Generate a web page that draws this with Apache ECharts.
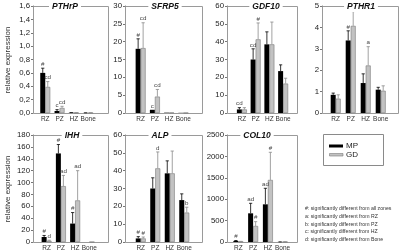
<!DOCTYPE html>
<html><head><meta charset="utf-8">
<script src="https://cdn.jsdelivr.net/npm/echarts@6/dist/echarts.min.js"></script>
<style>html,body{margin:0;padding:0;background:#fff}#c{width:400px;height:252px}</style>
</head><body><div id="c"></div>
<script>
// ---------- data ----------
const categories = ['RZ', 'PZ', 'HZ', 'Bone'];
const genes = ['PTHrP', 'SFRP5', 'GDF10', 'PTHR1', 'IHH', 'ALP', 'COL10'];
const yMax  = [1.6, 30, 60, 5, 180, 60, 2500];
const yStep = [0.2, 5, 10, 1, 20, 10, 500];
const mpMean = [
  [0.60, 0.03, 0.005, 0.002],
  [18.0, 0.9, 0.1, 0.05],
  [2.0, 30, 38.5, 23.5],
  [0.85, 3.39, 1.4, 1.09],
  [8.4, 149, 31, 0],
  [2.0, 30, 38.5, 23.5],
  [25, 670, 880, 2]
];
const mpUpper = [
  [0.67, 0.05, 0.006, 0.003],
  [20.8, 0.9, 0.1, 0.05],
  [3.0, 36, 45.5, 27],
  [0.93, 3.84, 1.83, 1.2],
  [11, 164, 49.5, 0],
  [3.0, 36, 45.5, 27],
  [35, 904, 1255, 3]
];
const gdMean = [
  [0.39, 0.075, 0.004, 0.002],
  [18.2, 4.6, 0.1, 0.05],
  [2.0, 41.3, 38.5, 16.5],
  [0.67, 4.07, 2.22, 1.04],
  [2, 94, 70, 0],
  [2.0, 41.3, 38.5, 16.5],
  [10, 374, 1450, 2]
];
const gdUpper = [
  [0.47, 0.10, 0.005, 0.003],
  [25.3, 6.6, 0.1, 0.05],
  [3.0, 50.5, 51, 19.5],
  [0.85, 4.74, 3.1, 1.27],
  [3, 112, 120, 0],
  [2.8, 50.5, 51, 19.5],
  [15, 475, 2096, 3]
];
const mpNotes = [
  ['#', 'c', '', ''],
  ['#', 'c', '', ''],
  ['cd', 'cd', '', ''],
  ['', '#', '', ''],
  ['#', '#', '#', ''],
  ['#', '', '', ''],
  ['#', 'ad', 'ad', '']
];
const gdNotes = [
  ['cd', 'cd', '', ''],
  ['cd', 'cd', '', ''],
  ['', '#', '', ''],
  ['', '#', 'a', ''],
  ['d', 'ad', 'ad', ''],
  ['#', 'd', '', 'b'],
  ['', '#', '#', '']
];
const legendNames = ['MP', 'GD'];
const footnotes = [
  '#: significantly different from all zones',
  'a: significantly different from RZ',
  'b: significantly different from PZ',
  'c: significantly different from HZ',
  'd: significantly different from Bone'
];

// ---------- layout ----------
const FONT = 'Liberation Sans, Arial, sans-serif';
// box: [axisX, rightX, topY, bottomY], plot: [left, width], title centre x
const layout = [
  {box: [33, 108, 6, 113],  plot: [38.1, 57.2], tx: 65},
  {box: [125, 202, 6, 113], plot: [133.5, 57],  tx: 165},
  {box: [227, 297, 6, 113], plot: [235, 55],    tx: 266},
  {box: [322, 398, 6, 113], plot: [328.2, 60],  tx: 361},
  {box: [33, 108, 135, 242], plot: [39.5, 57],  tx: 72},
  {box: [125, 202, 135, 242], plot: [133.5, 58], tx: 160},
  {box: [227, 297, 135, 242], plot: [231, 59],  tx: 257}
];
const BW = 5;

const grid = [], xAxis = [], yAxis = [], series = [], graphic = [];
genes.forEach((g, i) => {
  const L = layout[i];
  const [ax, rx, ty, by] = L.box;
  grid.push({left: L.plot[0], width: L.plot[1], top: ty, height: by - ty});
  xAxis.push({
    type: 'category', gridIndex: i, data: categories,
    axisLine: {show: false}, axisTick: {show: false},
    axisLabel: {fontSize: 6.5, color: '#333', margin: 3, fontFamily: FONT, interval: 0}
  });
  yAxis.push({
    type: 'value', gridIndex: i, min: 0, max: yMax[i], interval: yStep[i],
    offset: L.plot[0] - ax,
    splitLine: {show: false},
    axisLine: {show: true, lineStyle: {color: '#777', width: 1}},
    axisTick: {show: true, length: 2, lineStyle: {color: '#777'}},
    axisLabel: {
      fontSize: 7.8, color: '#222', margin: 3, fontFamily: FONT,
      formatter: i === 0 ? (v => v.toFixed(1).replace('.', ',')) : (v => String(v))
    }
  });
  series.push({
    type: 'bar', name: 'MP', xAxisIndex: i, yAxisIndex: i, data: mpMean[i],
    barWidth: BW, barGap: '0%', itemStyle: {color: '#000'}, silent: true
  });
  series.push({
    type: 'bar', name: 'GD', xAxisIndex: i, yAxisIndex: i, data: gdMean[i],
    barWidth: BW, barGap: '0%',
    itemStyle: {color: '#c2c2c2', borderColor: '#7a7a7a', borderWidth: 0.6}, silent: true
  });
  const errData = [], errNotes = [];
  categories.forEach((c, k) => {
    errData.push([k, mpUpper[i][k], mpMean[i][k], 0]); errNotes.push(mpNotes[i][k]);
    errData.push([k, gdUpper[i][k], gdMean[i][k], 1]); errNotes.push(gdNotes[i][k]);
  });
  series.push({
    type: 'custom', xAxisIndex: i, yAxisIndex: i, data: errData, clip: false, silent: true, z: 5,
    encode: {x: 0, y: 1},
    renderItem: (params, api) => {
      const k = api.value(0), top = api.value(1), val = api.value(2), grp = api.value(3);
      const b = api.coord([k, val]);
      const t = api.coord([k, top]);
      const x = b[0] + (grp === 0 ? -BW / 2 : BW / 2);
      const col = grp === 0 ? '#000' : '#8a8a8a';
      const ch = [];
      if (top > val) {
        ch.push({type: 'line', shape: {x1: x, y1: b[1], x2: x, y2: t[1]}, style: {stroke: col, lineWidth: 0.8}});
        ch.push({type: 'line', shape: {x1: x - 1.6, y1: t[1], x2: x + 1.6, y2: t[1]}, style: {stroke: col, lineWidth: 0.8}});
      }
      const note = errNotes[params.dataIndex];
      if (note) {
        ch.push({type: 'text', style: {text: note, x: x, y: t[1] - 1, align: 'center', verticalAlign: 'bottom',
          fontSize: 6.2, fill: '#444', fontFamily: FONT}});
      }
      return {type: 'group', children: ch};
    }
  });
  graphic.push({type: 'rect', z: 1, shape: {x: ax + 0.5, y: ty + 0.5, width: rx - ax, height: by - ty},
    style: {fill: 'none', stroke: '#9a9a9a', lineWidth: 1}, silent: true});
  graphic.push({type: 'text', z: 10, x: L.tx, y: ty + 0.5, silent: true,
    style: {text: g, align: 'center', verticalAlign: 'middle', fontSize: 8.5, fontWeight: 'bold',
      fontStyle: 'italic', fill: '#111', fontFamily: FONT, backgroundColor: '#fff', padding: [1, 3]}});
});

// y-axis titles
[60, 189].forEach(cy => {
  graphic.push({type: 'text', x: 8, y: cy, rotation: Math.PI / 2, silent: true,
    style: {text: 'relative expression', align: 'center', verticalAlign: 'middle', fontSize: 8,
      fill: '#333', fontFamily: FONT}});
});

// legend
graphic.push({type: 'rect', shape: {x: 323.5, y: 134.5, width: 60, height: 31},
  style: {fill: '#fff', stroke: '#8a8a8a', lineWidth: 1}, silent: true});
graphic.push({type: 'rect', shape: {x: 329, y: 144.5, width: 14, height: 3}, style: {fill: '#000'}, silent: true});
graphic.push({type: 'rect', shape: {x: 329.5, y: 153.5, width: 13.5, height: 2.5},
  style: {fill: '#c2c2c2', stroke: '#7a7a7a', lineWidth: 0.6}, silent: true});
graphic.push({type: 'text', x: 346, y: 146, silent: true,
  style: {text: legendNames[0], verticalAlign: 'middle', fontSize: 8, fill: '#222', fontFamily: FONT}});
graphic.push({type: 'text', x: 346, y: 155, silent: true,
  style: {text: legendNames[1], verticalAlign: 'middle', fontSize: 8, fill: '#222', fontFamily: FONT}});

// footnotes
footnotes.forEach((t, j) => {
  graphic.push({type: 'text', x: 305, y: 209 + j * 7.6, silent: true,
    style: {text: t, verticalAlign: 'middle', fontSize: 5.2, fill: '#333', fontFamily: FONT}});
});

const chart = echarts.init(document.getElementById('c'), null, {renderer: 'canvas'});
chart.setOption({
  animation: false, backgroundColor: '#fff',
  grid, xAxis, yAxis, series, graphic
});
</script>
</body></html>
